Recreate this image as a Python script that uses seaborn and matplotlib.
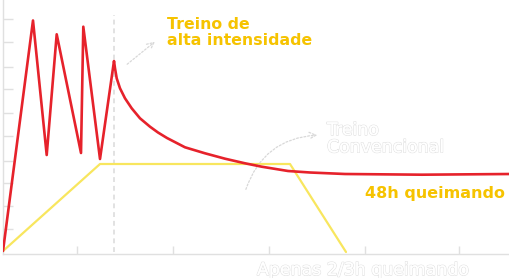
import matplotlib
matplotlib.use("Agg")
import matplotlib.pyplot as plt
import matplotlib.patheffects as pe
import seaborn as sns
import pandas as pd

# Data (axis units)
hiit_x = [0, 30, 43.7, 53.7, 78, 80.3, 97, 111, 112, 113.7, 117, 122, 128.7, 137,
          147, 155, 164, 182, 202, 222, 242, 258.7, 285, 307, 342, 419, 507]
hiit_y = [3, 233.5, 99, 219.7, 101, 227.3, 95, 193, 185.7, 175.7, 165.7, 155.7,
          145.7, 135.7, 127.3, 121.5, 116, 106.7, 100.7, 95.3, 90.7, 87.3, 83,
          81.5, 80, 79.3, 80]
conv_x = [0, 97, 287, 343]
conv_y = [3, 90, 90, 2]
x_ticks = [74, 170, 266, 362, 456]
y_ticks = [25, 48, 71, 93, 118, 141, 165, 187, 212, 235]
label_hiit = "Treino de\nalta intensidade"
label_hiit_time = "48h queimando"
label_conv = "Treino\nConvencional"
label_conv_time = "Apenas 2/3h queimando"

RED = "#e6222b"
YELLOW = "#f8e65e"
GOLD = "#f6c300"
GRID = "#e0e0e0"

sns.set_theme(style="white")
plt.rcParams["font.family"] = ["DejaVu Sans"]

fig = plt.figure(figsize=(5.10, 2.78), dpi=100)
fig.patch.set_facecolor("white")
ax = fig.add_axes([3 / 510, 24 / 278, 507 / 510, 254 / 278])
ax.set_facecolor("white")

df_h = pd.DataFrame({"x": hiit_x, "y": hiit_y})
df_c = pd.DataFrame({"x": conv_x, "y": conv_y})
sns.lineplot(data=df_c, x="x", y="y", ax=ax, color=YELLOW, lw=1.6, sort=False,
             estimator=None, zorder=3)
sns.lineplot(data=df_h, x="x", y="y", ax=ax, color=RED, lw=1.9, sort=False,
             estimator=None, zorder=4)

ax.set_xlim(0, 507)
ax.set_ylim(0, 254)
ax.set_xlabel("")
ax.set_ylabel("")
ax.set_xticks(x_ticks)
ax.set_yticks(y_ticks)
ax.set_xticklabels([])
ax.set_yticklabels([])
ax.tick_params(axis="x", direction="in", length=6, width=1, color=GRID,
               bottom=True)
ax.tick_params(axis="y", direction="in", length=7, width=1, color=GRID,
               left=True)
for s in ["top", "right"]:
    ax.spines[s].set_visible(False)
for s in ["left", "bottom"]:
    ax.spines[s].set_color(GRID)
    ax.spines[s].set_linewidth(1)

# dashed vertical marker
ax.plot([111, 111], [2, 239], color="#e2e2e2", lw=1.4, ls=(0, (2.5, 2)), zorder=2)

outline = [pe.withStroke(linewidth=1.0, foreground="#e2e2e2")]

ax.text(164, 237, label_hiit, color=GOLD, fontsize=11.3, fontweight="bold",
        ha="left", va="top", linespacing=1.05)
ax.text(362, 68, label_hiit_time, color=GOLD, fontsize=11.5, fontweight="bold",
        ha="left", va="top")
t1 = ax.text(324, 133, label_conv, color="white", fontsize=12.5, ha="left",
             va="top", linespacing=0.95)
t1.set_path_effects(outline + [pe.Normal()])
t2 = ax.text(254, -7, label_conv_time, color="white", fontsize=12.5, ha="left",
             va="top", clip_on=False)
t2.set_path_effects(outline + [pe.Normal()])

arrow_style = dict(arrowstyle="->", color="#d8d8d8", lw=0.9, ls=(0, (1.5, 1.5)),
                   mutation_scale=12)
ax.annotate("", xy=(154, 214), xytext=(122, 188),
            arrowprops=dict(**arrow_style))
ax.annotate("", xy=(317, 119), xytext=(242, 62),
            arrowprops=dict(**arrow_style, connectionstyle="arc3,rad=-0.35"))

fig.savefig("out.png", dpi=100, facecolor="white")
